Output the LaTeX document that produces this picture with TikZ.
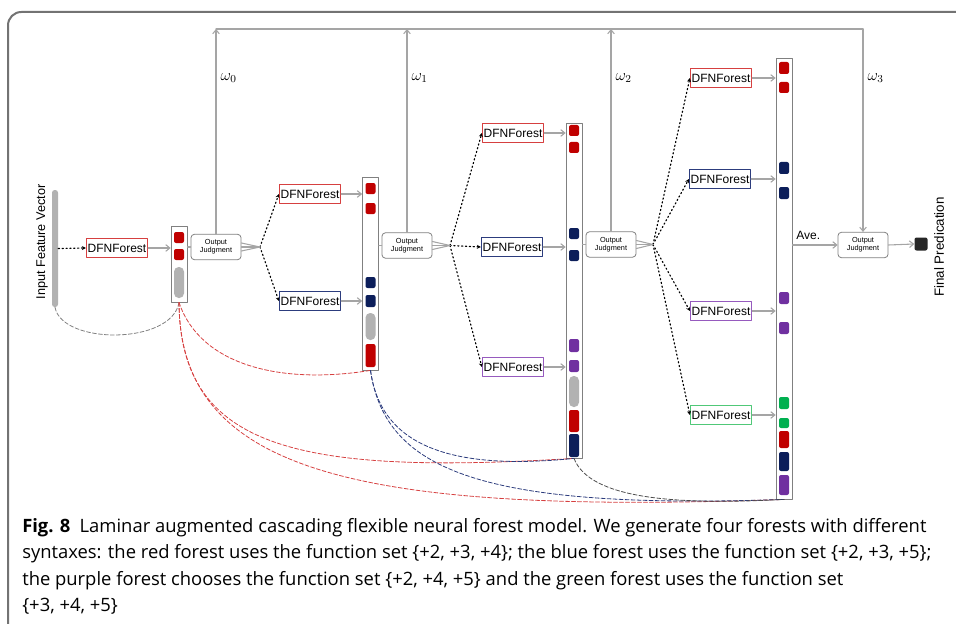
\documentclass[tikz,border=0pt]{standalone}
\usepackage{fontspec}
\setmainfont{Liberation Sans}
\newfontfamily\capfont{Open Sans}
\usetikzlibrary{arrows.meta}
\definecolor{fred}{RGB}{192,0,0}
\definecolor{fredline}{RGB}{214,64,64}
\definecolor{fnavy}{RGB}{12,30,90}
\definecolor{fnavyline}{RGB}{44,60,125}
\definecolor{fpurple}{RGB}{112,48,160}
\definecolor{fpurpleline}{RGB}{150,90,190}
\definecolor{fgreen}{RGB}{0,176,80}
\definecolor{fgreenline}{RGB}{80,200,120}
\definecolor{fgray}{RGB}{165,165,165}
\begin{document}
\begin{tikzpicture}[x=0.75pt, y=-0.75pt, >=stealth, font=\fontsize{9}{10}\selectfont, line join=round, line cap=round,
	forest/.style={draw=#1, line width=0.7pt, fill=white, minimum width=45.75pt, minimum height=14pt, inner sep=1pt},
	column/.style={draw=gray, line width=0.6pt, fill=white, minimum width=12pt, minimum height=#1, inner sep=0pt},
	judge/.style={draw=gray, line width=0.6pt, rounded corners=2.5pt, minimum width=37.5pt, minimum height=19pt, align=center, inner sep=1pt, font=\fontsize{5.5}{6}\selectfont},
	feed/.style={draw=fgray, line width=0.8pt, -{Straight Barb[length=3pt,width=5pt]}},
	split/.style={dotted, line width=0.9pt, -{Stealth[length=3pt,width=3pt]}},
	link/.style={line width=0.6pt, dash pattern=on 3pt off 1.5pt, draw=#1}]
	\useasboundingbox (0,0) rectangle (956,624);
	\draw[black!55, line width=1.5pt, rounded corners=10pt] (8,640) -- (8,12) -- (970,12);
	
	\coordinate (top) at (0,29);
	\coordinate (s1) at (260,247);
	\coordinate (s2) at (450,245.5);
	\coordinate (s3) at (653,244.5);
	
	% layers
	\node[column=57pt] (c1) at (179,264) {};
	\node[column=144.75pt] (c2) at (370.5,273.5) {};
	\node[column=251.25pt] (c3) at (574,290.5) {};
	\node[column=330.75pt] (c4) at (784,278.5) {};
	
	\foreach \c/\a/\b in {fred/232/243, fred/249/260} { \fill[\c, rounded corners=1.5pt] (174,\a) rectangle (184,\b); }
	\foreach \c/\a/\b in {fred/183/194, fred/203/214, fnavy/277/288, fnavy/295/307, fred/344/367} { \fill[\c, rounded corners=1.5pt] (365.5,\a) rectangle (375.5,\b); }
	\foreach \c/\a/\b in {fred/125/136, fred/142/153, fnavy/228/239, fnavy/250/261, fpurple/339/352, fpurple/360/372, fred/410/432, fnavy/434/457} { \fill[\c, rounded corners=1.5pt] (569,\a) rectangle (579,\b); }
	\foreach \c/\a/\b in {fred/62/74, fred/82/93, fnavy/162/174, fnavy/187/199, fpurple/292/304, fpurple/322/334, fgreen/397/409, fgreen/418/428, fred/431/448, fnavy/452/471, fpurple/475/495} { \fill[\c, rounded corners=1.5pt] (779,\a) rectangle (789,\b); }
	\fill[fgray!85, rounded corners=3.5pt] (174,267) rectangle (184,298);
	\fill[fgray!85, rounded corners=3.5pt] (365.5,313) rectangle (375.5,340);
	\fill[fgray!85, rounded corners=3.5pt] (569,376) rectangle (579,407);
	
	% input
	\node[fill=fgray!85, rounded corners=2pt, minimum width=4.5pt, minimum height=87.75pt, inner sep=0pt] (ifv) at (55,248.5) {};
	\node[rotate=90, font=\fontsize{9.5}{11}\selectfont] (ifvlab) at (42,242) {Input Feature Vector};
	
	% forests
	\node[forest=fredline] (f1) at (117,248) {DFNForest};
	\node[forest=fredline] (f21) at (310,194) {DFNForest};
	\node[forest=fnavyline] (f22) at (310,301) {DFNForest};
	\node[forest=fredline] (f31) at (513,133) {DFNForest};
	\node[forest=fnavyline] (f32) at (512,247) {DFNForest};
	\node[forest=fpurpleline] (f33) at (513,367) {DFNForest};
	\node[forest=fredline] (f41) at (721,78) {DFNForest};
	\node[forest=fnavyline] (f42) at (720,179) {DFNForest};
	\node[forest=fpurpleline] (f43) at (721,311) {DFNForest};
	\node[forest=fgreenline] (f44) at (721,415) {DFNForest};
	
	% judgments
	\node[judge] (j1) at (216,247) {Output\\Judgment};
	\node[judge] (j2) at (407,245.5) {Output\\Judgment};
	\node[judge] (j3) at (611,244.5) {Output\\Judgment};
	\node[judge] (j4) at (863,245) {Output\\Judgment};
	
	\node[fill=black!85, rounded corners=1.5pt, minimum size=9.75pt, inner sep=0pt] (fp) at (921,244) {};
	\node[rotate=90, font=\fontsize{10}{12}\selectfont] (fplab) at (939,247) {Final Predication};
	
	\draw[split] (ifv.east) -- (f1.west);
	\foreach \f in {f21,f22} { \draw[split] (s1) -- (\f.west); }
	\foreach \f in {f31,f32,f33} { \draw[split] (s2) -- (\f.west); }
	\foreach \f in {f41,f42,f43,f44} { \draw[split] (s3) -- (\f.west); }
	
	\draw[feed] (f1.east) -- (f1.east -| c1.west);
	\foreach \f in {f21,f22} { \draw[feed] (\f.east) -- (\f.east -| c2.west); }
	\foreach \f in {f31,f32,f33} { \draw[feed] (\f.east) -- (\f.east -| c3.west); }
	\foreach \f in {f41,f42,f43,f44} { \draw[feed] (\f.east) -- (\f.east -| c4.west); }
	
	\draw[fgray, line width=0.8pt] (c1.east |- j1) -- (j1.west);
	\draw[fgray, line width=0.8pt] (c2.east |- j2) -- (j2.west);
	\draw[fgray, line width=0.8pt] (c3.east |- j3) -- (j3.west);
	\foreach \j/\s in {j1/s1, j2/s2, j3/s3} {
		\foreach \d in {-3,0,3} { \draw[fgray, line width=0.8pt] ([yshift=\d pt]\j.east) -- (\s); }
	}
	\draw[feed] (c4.east |- j4) -- (j4.west) node[pos=0.35, above, font=\fontsize{9}{10}\selectfont] {Ave.};
	\draw[feed] (j4.east) -- (fp.west);
	
	% weights
	\draw[feed] (j1.north) -- (j1.north |- top);
	\draw[feed] (j2.north) -- (j2.north |- top);
	\draw[feed] (j3.north) -- (j3.north |- top);
	\draw[fgray, line width=0.8pt] (j1.north |- top) -- (j4.north |- top);
	\draw[feed] (j4.north |- top) -- (j4.north);
	\node[right, font=\fontsize{12}{13}\selectfont] (w0) at (j1.north |- 0,78) {$\omega_0$};
	\node[right, font=\fontsize{12}{13}\selectfont] (w1) at (j2.north |- 0,78) {$\omega_1$};
	\node[right, font=\fontsize{12}{13}\selectfont] (w2) at (j3.north |- 0,78) {$\omega_2$};
	\node[right, font=\fontsize{12}{13}\selectfont] (w3) at (j4.north |- 0,78) {$\omega_3$};
	
	% augmented links
	\draw[link=gray] (c1.south) .. controls (172,345) and (62,345) .. (ifv.south);
	\draw[link=fredline] (c1.south) .. controls (200,365) and (280,385) .. (c2.south);
	\draw[link=fredline] (c1.south) .. controls (180,450) and (300,475) .. (c3.south);
	\draw[link=fredline] (c1.south) .. controls (180,470) and (350,515) .. (c4.south);
	\draw[link=fnavyline] (c2.south) .. controls (380,440) and (440,472) .. (c3.south);
	\draw[link=fnavyline] (c2.south) .. controls (385,470) and (480,510) .. (c4.south);
	\draw[link=black!70] (c3.south) .. controls (590,500) and (680,505) .. (c4.south);
	
	% caption
	\node[anchor=base west, inner sep=0pt, font=\capfont\fontsize{13.8}{15}\selectfont] (cap1) at (22,532) {\textbf{Fig. 8}\enspace Laminar augmented cascading flexible neural forest model. We generate four forests with different};
	\node[anchor=base west, inner sep=0pt, font=\capfont\fontsize{13.8}{15}\selectfont] (cap2) at (22,558.5) {syntaxes: the red forest uses the function set \{+2, +3, +4\}; the blue forest uses the function set \{+2, +3, +5\};};
	\node[anchor=base west, inner sep=0pt, font=\capfont\fontsize{13.8}{15}\selectfont] (cap3) at (22,585) {the purple forest chooses the function set \{+2, +4, +5\} and the green forest uses the function set};
	\node[anchor=base west, inner sep=0pt, font=\capfont\fontsize{13.8}{15}\selectfont] (cap4) at (22,611) {\{+3, +4, +5\}};
\end{tikzpicture}
\end{document}
